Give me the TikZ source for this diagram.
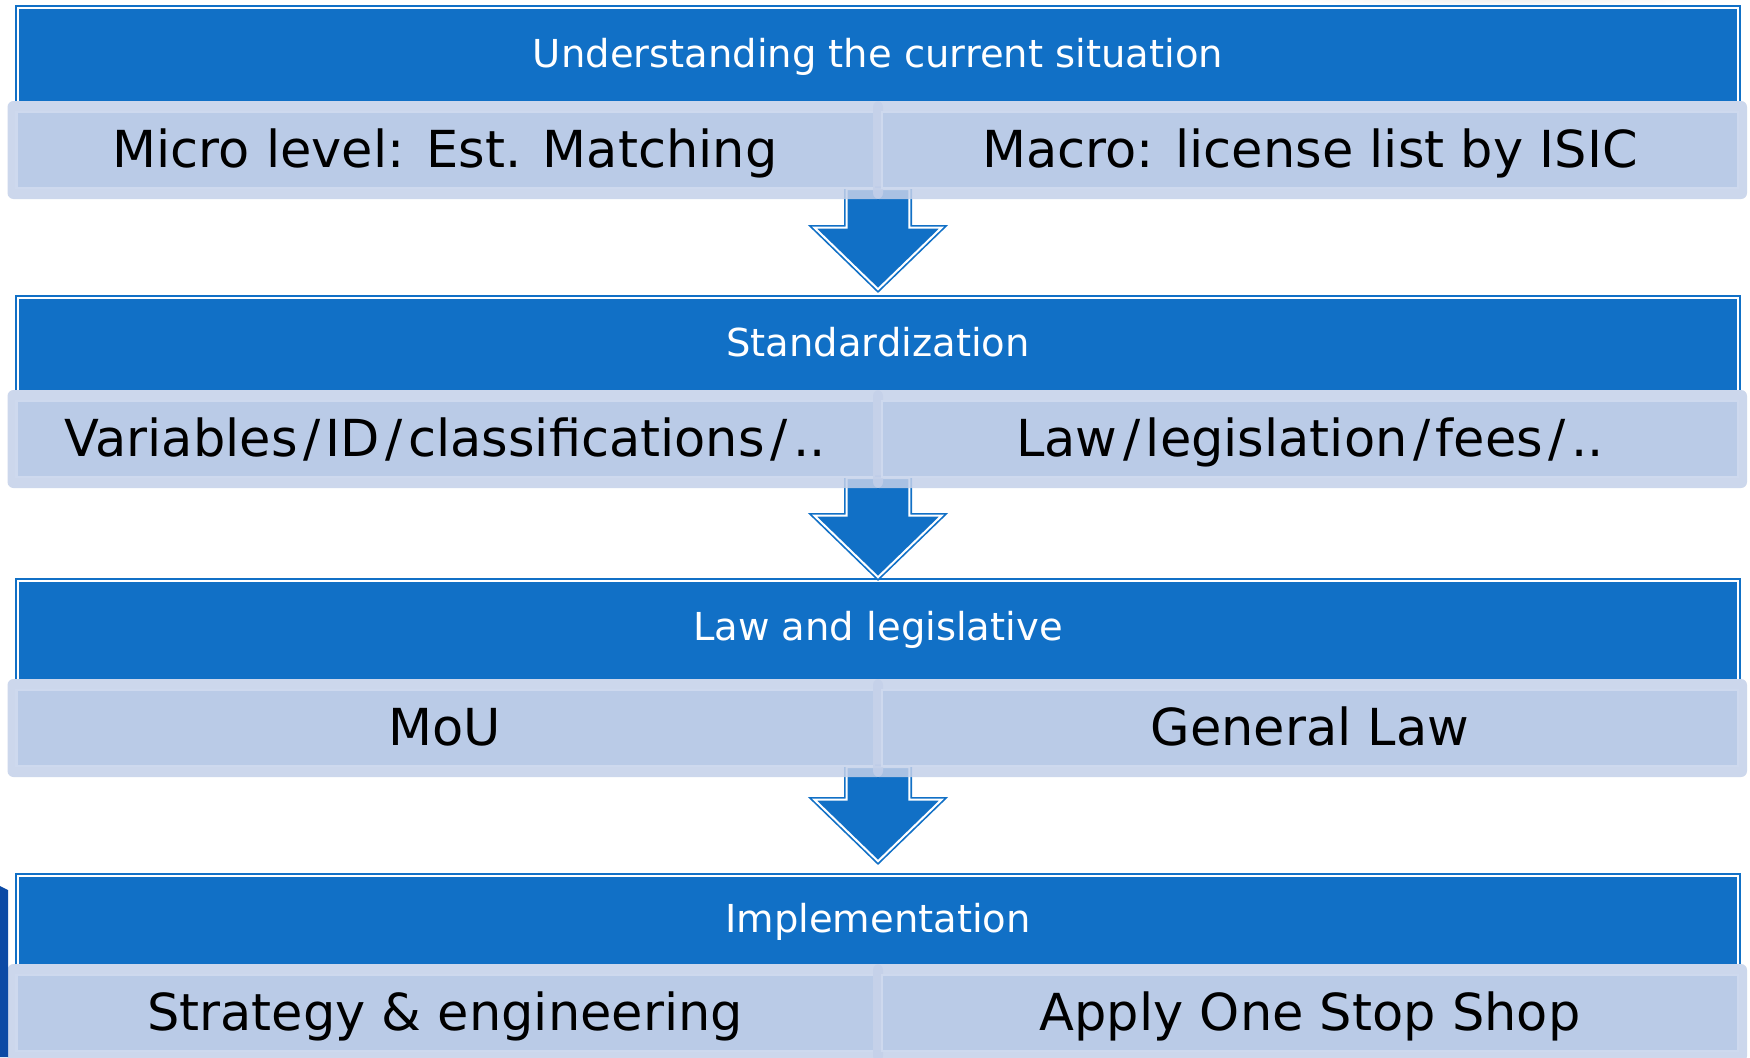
\documentclass[tikz,border=0pt]{standalone}
\usepackage{fontspec}
\setmainfont{DejaVu Sans}
\definecolor{hblue}{RGB}{17,112,198}
\definecolor{cellfill}{RGB}{186,203,231}
\definecolor{cellband}{RGB}{196,208,233}
\definecolor{cellline}{RGB}{206,217,238}
\definecolor{darkedge}{RGB}{12,74,165}
\newcommand{\wslash}{\kern5.5pt/\kern5.5pt}
\begin{document}
\begin{tikzpicture}[x=1pt,y=-1pt,
  hdr/.style={fill=hblue, draw=hblue, double=white, line width=1.7pt, double distance=2pt},
  blockarrow/.style={hdr, line join=miter, miter limit=10},
  bandbox/.style={fill=cellband, fill opacity=.85, rounded corners=6pt},
  innerbox/.style={fill=cellfill, draw=cellline, line width=2.2pt},
  titletext/.style={text=white, font=\fontsize{38.5}{42}\selectfont, inner sep=0pt, anchor=base},
  maintext/.style={text=black, font=\fontsize{51}{58}\selectfont, inner sep=0pt, anchor=base}]
\useasboundingbox (0,0) rectangle (1750,1057);
\clip (0,0) rectangle (1750,1057);
\fill[white] (0,0) rectangle (1750,1057);
\shade[inner color=black!8, outer color=white] (1500,-4) ellipse [x radius=230, y radius=12];
% header bars
\foreach \t/\b in {7.7/101, 297.7/390, 580.7/679, 875.7/964}{
  \filldraw[hdr] (17.7,\b) -- (17.7,\t) -- (1738.3,\t) -- (1738.3,\b);
}
% block arrows
\foreach \s/\h in {189/227.7, 478/515.7, 767/799.7}{
  \filldraw[blockarrow] (846.7,\s) -- (846.7,\h) -- (814.5,\h) -- (878,{\h+61.5})
    -- (941.5,\h) -- (909.3,\h) -- (909.3,\s) -- cycle;
}
% light cells
\foreach \t in {101,390,679,964}{
  \fill[bandbox] (7.5,\t) rectangle (883,{\t+98});
  \filldraw[innerbox] (16.5,{\t+11}) rectangle (874,{\t+87});
  \fill[bandbox] (873,\t) rectangle (1747,{\t+98});
  \filldraw[innerbox] (882,{\t+11}) rectangle (1738,{\t+87});
}
% left edge decoration
\fill[darkedge] (0,886) -- (8,890) -- (8,1057) -- (0,1057) -- cycle;
% titles
\node[titletext] (t1) at (878,67) {Understanding the current situation};
\node[titletext] (t2) at (878,356.5) {Standardization};
\node[titletext] (t3) at (878,640) {Law and legislative};
\node[titletext] (t4) at (878,932.5) {Implementation};
% cell texts
\node[maintext] (a1) at (445,167) {Micro level: Est. Matching};
\node[maintext] (b1) at (1310,167) {Macro: license list by ISIC};
\node[maintext] (a2) at (445,456) {Variables\wslash ID\wslash classifications\wslash ..};
\node[maintext] (b2) at (1310,456) {Law\wslash legislation\wslash fees\wslash ..};
\node[maintext] (a3) at (445,745) {MoU};
\node[maintext] (b3) at (1310,745) {General Law};
\node[maintext] (a4) at (445,1030) {Strategy \& engineering};
\node[maintext] (b4) at (1310,1030) {Apply One Stop Shop};
\end{tikzpicture}
\end{document}
